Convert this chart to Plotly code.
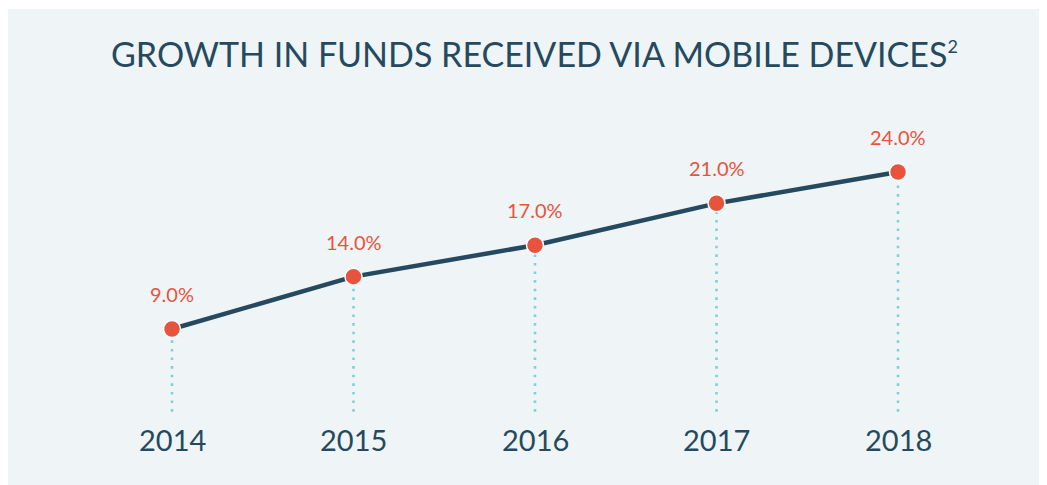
import plotly.graph_objects as go

years = [2014, 2015, 2016, 2017, 2018]
values = [9.0, 14.0, 17.0, 21.0, 24.0]
value_labels = ["9.0%", "14.0%", "17.0%", "21.0%", "24.0%"]
year_labels = ["2014", "2015", "2016", "2017", "2018"]
title_text = "GROWTH IN FUNDS RECEIVED VIA MOBILE DEVICES<sup><span style='font-size:18px'>2</span></sup>"

NAVY = "#254a5f"
RED = "#e8533d"
DOT = "#7fd0dc"
BG = "#eff5f6"
FONT = "Lato"

base_val = 1.1  # bottom of the dotted drop lines
year_label_val = -1.6

fig = go.Figure()

for x, v in zip(years, values):
    fig.add_trace(go.Scatter(
        x=[x, x], y=[base_val, v], mode="lines",
        line=dict(color=DOT, width=2.6, dash="2.6px,6px"),
        hoverinfo="skip", showlegend=False))

fig.add_trace(go.Scatter(
    x=years, y=values, mode="lines",
    line=dict(color=NAVY, width=4.5),
    showlegend=False))

fig.add_trace(go.Scatter(
    x=years, y=values, mode="markers",
    marker=dict(color=RED, size=17, line=dict(color="white", width=1.5)),
    showlegend=False))

for x, v, t in zip(years, values, value_labels):
    fig.add_annotation(x=x, y=v, text=t, showarrow=False, yshift=35,
                       font=dict(family=FONT, size=20, color=RED))

for x, t in zip(years, year_labels):
    fig.add_annotation(x=x, y=year_label_val, text=t, showarrow=False,
                       font=dict(family=FONT, size=29, color=NAVY))

fig.add_annotation(xref="paper", yref="paper", x=0.507, y=0.906,
                   text=title_text, showarrow=False, yanchor="middle",
                   font=dict(family=FONT, size=34, color=NAVY))

fig.update_layout(
    width=1039, height=477,
    margin=dict(l=0, r=0, t=1, b=0),
    paper_bgcolor="white", plot_bgcolor=BG,
    xaxis=dict(range=[2013.0964, 2018.8209], visible=False, fixedrange=True),
    yaxis=dict(range=[-5.9, 39.56], visible=False, fixedrange=True),
)

fig.write_html("out.html")
